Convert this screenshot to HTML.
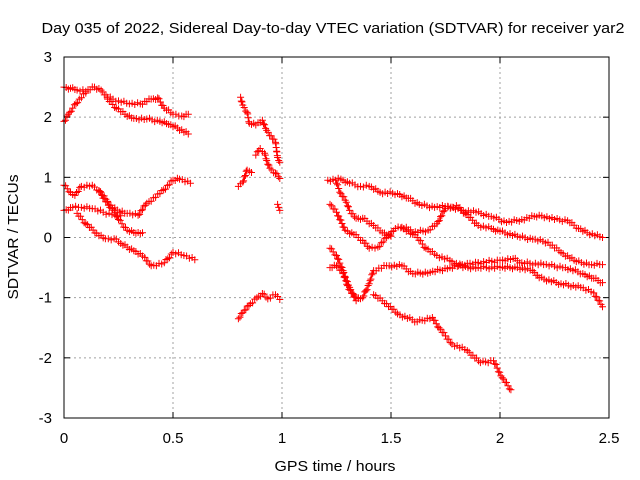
<!DOCTYPE html>
<html><head><meta charset="utf-8"><style>
html,body{margin:0;padding:0;background:#fff;}
svg{display:block;font-family:"Liberation Sans",sans-serif;}
</style></head><body>
<svg id="chart" width="640" height="480" viewBox="0 0 640 480">
<text x="333" y="33" text-anchor="middle" font-size="15" textLength="583" lengthAdjust="spacingAndGlyphs" fill="#000">Day 035 of 2022, Sidereal Day-to-day VTEC variation (SDTVAR) for receiver yar2</text>
<text x="335" y="471" text-anchor="middle" font-size="15" textLength="121" lengthAdjust="spacingAndGlyphs" fill="#000">GPS time / hours</text>
<text x="18" y="237" text-anchor="middle" font-size="15" textLength="125" lengthAdjust="spacingAndGlyphs" fill="#000" transform="rotate(-90 18 237)">SDTVAR / TECUs</text>
<g id="grid"></g>
<g id="ticks"></g>
<g id="marks"></g>
<rect x="64" y="57" width="545" height="361" fill="none" stroke="#000" stroke-width="1"/>
</svg>
<script>
const xTicks = [0, 0.5, 1, 1.5, 2, 2.5];
const xTickLabels = ["0", "0.5", "1", "1.5", "2", "2.5"];
const yTicks = [-3, -2, -1, 0, 1, 2, 3];
const yTickLabels = ["-3", "-2", "-1", "0", "1", "2", "3"];
const seriesA1 = [[0,2.5],[0.03,2.48],[0.06,2.45],[0.1,2.43],[0.14,2.5],[0.17,2.45],[0.2,2.33],[0.25,2.27],[0.3,2.22],[0.35,2.22],[0.4,2.3],[0.43,2.32],[0.46,2.15],[0.5,2.05],[0.54,2.02],[0.57,2.05]];
const seriesA2 = [[0.2,2.3],[0.24,2.15],[0.28,2.05],[0.32,1.98],[0.38,1.97],[0.44,1.93],[0.48,1.88],[0.52,1.82],[0.57,1.72]];
const seriesA0 = [[0,1.93],[0.02,2.05],[0.04,2.15],[0.07,2.3],[0.1,2.4]];
const seriesB = [[0,0.87],[0.03,0.75],[0.05,0.7],[0.08,0.85],[0.13,0.87],[0.16,0.78],[0.21,0.5],[0.29,0.4],[0.34,0.37],[0.38,0.57],[0.44,0.73],[0.5,0.95],[0.53,0.97],[0.58,0.9]];
const seriesD1 = [[0.16,0.78],[0.2,0.6],[0.23,0.45],[0.25,0.3],[0.29,0.12],[0.33,0.07],[0.36,0.08]];
const seriesC = [[0,0.45],[0.04,0.5],[0.08,0.5],[0.13,0.48],[0.18,0.42],[0.22,0.38],[0.26,0.36]];
const seriesE = [[0.06,0.4],[0.1,0.23],[0.15,0.07],[0.19,-0.02],[0.23,-0.02],[0.26,-0.1],[0.32,-0.22],[0.37,-0.33],[0.4,-0.47],[0.46,-0.42],[0.5,-0.25],[0.55,-0.3],[0.6,-0.37]];
const seriesM1 = [[0.81,2.33],[0.82,2.2],[0.84,2.08],[0.85,1.9],[0.88,1.87],[0.91,1.95],[0.93,1.78],[0.97,1.58],[0.98,1.33],[0.99,1.25]];
const seriesM2 = [[0.88,1.37],[0.9,1.48],[0.92,1.4],[0.93,1.28],[0.945,1.15],[0.97,1.07],[0.99,0.98]];
const seriesM3 = [[0.8,0.85],[0.82,0.92],[0.84,1.12],[0.86,1.08]];
const seriesM4 = [[0.98,0.55],[0.99,0.45]];
const seriesM5 = [[0.8,-1.35],[0.82,-1.25],[0.855,-1.1],[0.885,-1.0],[0.91,-0.93],[0.935,-1.02],[0.97,-0.95],[0.99,-1.03]];
const seriesF = [[1.21,0.95],[1.27,0.97],[1.31,0.9],[1.36,0.85],[1.4,0.85],[1.45,0.75],[1.53,0.73],[1.58,0.65],[1.63,0.55],[1.7,0.5],[1.76,0.52],[1.82,0.45],[1.89,0.42],[1.96,0.35],[2.03,0.25],[2.1,0.3],[2.18,0.37],[2.25,0.3],[2.31,0.28],[2.36,0.15],[2.4,0.08],[2.47,0.0]];
const seriesF2 = [[1.25,0.9],[1.27,0.73],[1.29,0.62],[1.31,0.45],[1.34,0.32],[1.37,0.32],[1.42,0.2],[1.46,0.08],[1.5,0.02]];
const seriesG = [[1.22,0.55],[1.25,0.42],[1.29,0.12],[1.33,0.05],[1.37,-0.05],[1.4,-0.18],[1.44,-0.16],[1.48,0.0],[1.52,0.15],[1.57,0.17],[1.6,0.08],[1.67,0.12],[1.71,0.23],[1.75,0.48],[1.8,0.53],[1.84,0.4],[1.9,0.2],[1.96,0.15],[2.0,0.1],[2.08,0.02],[2.15,-0.03],[2.22,-0.08],[2.28,-0.25],[2.35,-0.4],[2.42,-0.45],[2.47,-0.45]];
const seriesH = [[1.55,0.17],[1.6,0.05],[1.62,0.0],[1.66,-0.18],[1.71,-0.3],[1.77,-0.38],[1.83,-0.5],[1.9,-0.5],[2.0,-0.5],[2.08,-0.5],[2.15,-0.55],[2.18,-0.67],[2.28,-0.77],[2.37,-0.83],[2.43,-0.92],[2.47,-1.15]];
const seriesI = [[1.22,-0.5],[1.25,-0.47],[1.28,-0.6],[1.31,-0.83],[1.34,-1.05],[1.37,-1.0],[1.4,-0.77],[1.42,-0.55],[1.48,-0.47],[1.55,-0.47],[1.6,-0.6],[1.68,-0.58],[1.77,-0.5],[1.85,-0.43],[1.9,-0.42]];
const seriesK = [[1.9,-0.42],[2.0,-0.38],[2.06,-0.35],[2.1,-0.42],[2.2,-0.45],[2.3,-0.5],[2.38,-0.6],[2.43,-0.68],[2.47,-0.75]];
const seriesI2 = [[1.22,-0.18],[1.25,-0.3],[1.28,-0.55],[1.3,-0.8],[1.32,-0.93],[1.35,-1.0]];
const seriesJ = [[1.42,-0.95],[1.48,-1.1],[1.53,-1.27],[1.62,-1.4],[1.69,-1.33],[1.72,-1.5],[1.78,-1.77],[1.85,-1.88],[1.91,-2.08],[1.97,-2.05],[2.01,-2.33],[2.05,-2.53]];
const allSeries = [seriesA1,seriesA2,seriesA0,seriesB,seriesD1,seriesC,seriesE,seriesM1,seriesM2,seriesM3,seriesM4,seriesM5,seriesF,seriesF2,seriesG,seriesH,seriesI,seriesK,seriesI2,seriesJ];

const X0=64, X1=609, Y0=418, Y1=57, XMIN=0, XMAX=2.5, YMIN=-3, YMAX=3;
function xs(v){return X0+(v-XMIN)/(XMAX-XMIN)*(X1-X0);}
function ys(v){return Y0-(v-YMIN)/(YMAX-YMIN)*(Y0-Y1);}
const NS="http://www.w3.org/2000/svg";
const grid=document.getElementById('grid'), ticks=document.getElementById('ticks'), marks=document.getElementById('marks');
function mk(tag,attrs,parent){const e=document.createElementNS(NS,tag);for(const k in attrs)e.setAttribute(k,attrs[k]);parent.appendChild(e);return e;}

xTicks.forEach((t,i)=>{
  const x=xs(t);
  if(i>0&&i<xTicks.length-1){
    const g=mk('line',{x1:x,y1:Y1,x2:x,y2:Y0,stroke:'#a0a0a0','stroke-dasharray':'2,3'},grid);
    
    
  }
  const a=mk('line',{x1:x,y1:Y0,x2:x,y2:Y0-6,stroke:'#000'},ticks);
  
  
  const b=mk('line',{x1:x,y1:Y1,x2:x,y2:Y1+6,stroke:'#000'},ticks);
  
  
  const l=mk('text',{x:x,y:443,'text-anchor':'middle','font-size':'15',fill:'#000'},ticks);
  l.textContent=xTickLabels[i];
  
  
});
yTicks.forEach((t,i)=>{
  const y=ys(t);
  if(i>0&&i<yTicks.length-1){
    const g=mk('line',{x1:X0,y1:y,x2:X1,y2:y,stroke:'#a0a0a0','stroke-dasharray':'2,3'},grid);
    
    
  }
  const a=mk('line',{x1:X0,y1:y,x2:X0+6,y2:y,stroke:'#000'},ticks);
  
  
  const b=mk('line',{x1:X1,y1:y,x2:X1-6,y2:y,stroke:'#000'},ticks);
  
  
  const l=mk('text',{x:52,y:y+5,'text-anchor':'end','font-size':'15',fill:'#000'},ticks);
  l.textContent=yTickLabels[i];
  
  
});

allSeries.forEach((s,si)=>{
  let d='';
  const plus=(px,py)=>{d+=`M${(px-3.5).toFixed(1)} ${py.toFixed(1)}h7M${px.toFixed(1)} ${(py-3.5).toFixed(1)}v7`;};
  for(let i=0;i<s.length;i++){
    const px=xs(s[i][0]), py=ys(s[i][1]);
    plus(px,py);
    if(i<s.length-1){
      const qx=xs(s[i+1][0]), qy=ys(s[i+1][1]);
      const len=Math.hypot(qx-px,qy-py), n=Math.max(1,Math.round(len/2.6));
      for(let k=1;k<n;k++){
        const f=k/n, jit=((k*7+i*3+si)%5-2)*0.6;
        plus(px+(qx-px)*f, py+(qy-py)*f+jit);
      }
    }
  }
  const p=mk('path',{d:d,stroke:'#ff0000','stroke-width':'1',fill:'none'},marks);
  
  
});
</script>
</body></html>
